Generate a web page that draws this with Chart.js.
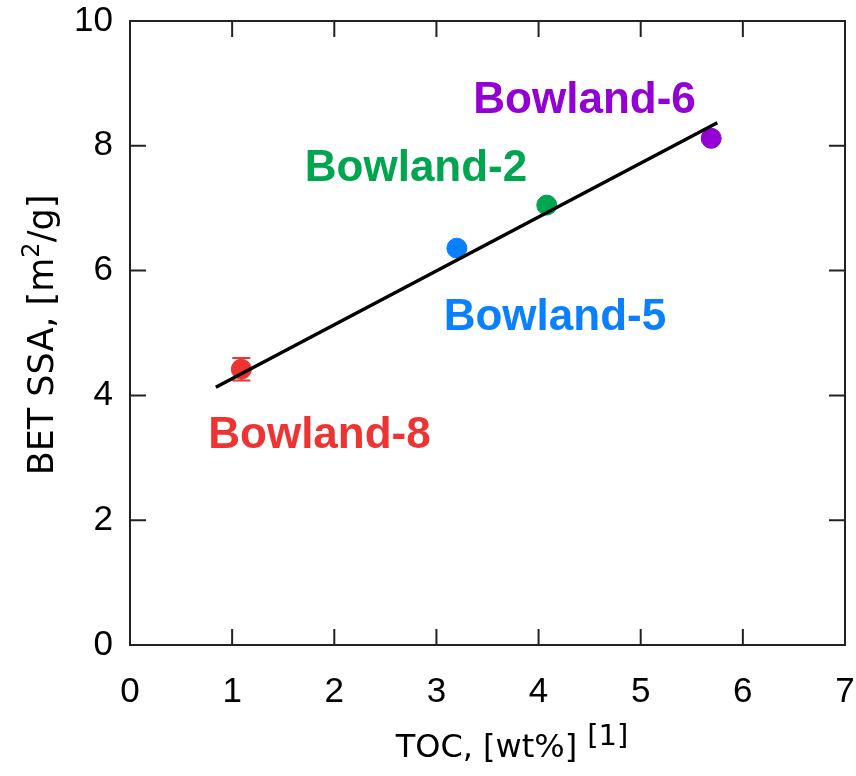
<!DOCTYPE html>
<html>
<head>
<meta charset="utf-8">
<script src="https://cdn.jsdelivr.net/npm/chart.js@4.4.1/dist/chart.umd.min.js"></script>
<style>
  html, body { margin: 0; padding: 0; background: #fff; }
  #wrap { width: 856px; height: 776px; }
</style>
</head>
<body>
<div id="wrap"><canvas id="c" width="856" height="776"></canvas></div>
<script>
// ---- data ----
const samples = ["Bowland-8", "Bowland-5", "Bowland-2", "Bowland-6"];
const tocValues = [1.09, 3.20, 4.08, 5.69];
const ssaValues = [4.42, 6.36, 7.05, 8.12];
const ssaErrors = [0.18, 0.0, 0.0, 0.0];
const sampleColors = ["#EE3333", "#0A80FF", "#00A550", "#9400D3"];
const labelX = [1.855, 4.16, 2.80, 4.45];
const labelY = [3.16, 5.05, 7.44, 8.53];
const fitX = [0.84, 5.75];
const fitY = [4.13, 8.37];
const xTicks = [0, 1, 2, 3, 4, 5, 6, 7];
const yTicks = [0, 2, 4, 6, 8, 10];

const datasets = [{
  type: 'line',
  data: fitX.map((x, i) => ({x: x, y: fitY[i]})),
  borderColor: '#000',
  borderWidth: 3.5,
  pointRadius: 0,
  fill: false,
  order: 0
}];
samples.forEach((s, i) => {
  datasets.push({
    type: 'scatter',
    label: s,
    data: [{x: tocValues[i], y: ssaValues[i]}],
    backgroundColor: sampleColors[i],
    borderColor: sampleColors[i],
    pointRadius: 10,
    pointHoverRadius: 10,
    order: 1
  });
});

function noPad(s) {
  s.paddingLeft = 0; s.paddingRight = 0; s.paddingTop = 0; s.paddingBottom = 0;
}

const decorations = {
  id: 'decorations',
  beforeDatasetsDraw(chart) {
    const ctx = chart.ctx, xs = chart.scales.x, ys = chart.scales.y;
    ctx.save();
    samples.forEach((s, i) => {
      if (!ssaErrors[i]) return;
      const px = xs.getPixelForValue(tocValues[i]);
      const top = ys.getPixelForValue(ssaValues[i] + ssaErrors[i]);
      const bot = ys.getPixelForValue(ssaValues[i] - ssaErrors[i]);
      ctx.strokeStyle = sampleColors[i];
      ctx.lineWidth = 2;
      ctx.beginPath();
      ctx.moveTo(px, top); ctx.lineTo(px, bot);
      ctx.moveTo(px - 9, top); ctx.lineTo(px + 9, top);
      ctx.moveTo(px - 9, bot); ctx.lineTo(px + 9, bot);
      ctx.stroke();
    });
    ctx.restore();
  },
  afterDraw(chart) {
    const ctx = chart.ctx, xs = chart.scales.x, ys = chart.scales.y;
    const a = chart.chartArea;
    ctx.save();
    // frame
    ctx.strokeStyle = '#222';
    ctx.lineWidth = 2;
    ctx.strokeRect(a.left, a.top, a.right - a.left, a.bottom - a.top);
    // inward ticks on all sides
    const tl = 16;
    ctx.beginPath();
    xTicks.forEach(v => {
      const px = xs.getPixelForValue(v);
      ctx.moveTo(px, a.bottom); ctx.lineTo(px, a.bottom - tl);
      ctx.moveTo(px, a.top); ctx.lineTo(px, a.top + tl);
    });
    yTicks.forEach(v => {
      const py = ys.getPixelForValue(v);
      ctx.moveTo(a.left, py); ctx.lineTo(a.left + tl, py);
      ctx.moveTo(a.right, py); ctx.lineTo(a.right - tl, py);
    });
    ctx.stroke();
    // sample labels
    ctx.font = 'bold 44px "Liberation Sans", Arial, sans-serif';
    ctx.textAlign = 'center';
    ctx.textBaseline = 'alphabetic';
    samples.forEach((s, i) => {
      ctx.fillStyle = sampleColors[i];
      ctx.fillText(s, xs.getPixelForValue(labelX[i]), ys.getPixelForValue(labelY[i]));
    });
    // x title
    ctx.fillStyle = '#000';
    ctx.font = '32px "DejaVu Sans", sans-serif';
    ctx.textAlign = 'left';
    const main = 'TOC, [wt%]';
    const w1 = ctx.measureText(main).width;
    ctx.font = '29px "DejaVu Sans", sans-serif';
    const sup = '[1]';
    const w2 = ctx.measureText(sup).width;
    const total = w1 + 10 + w2;
    const cx = 512;
    let sx = cx - total / 2;
    ctx.font = '32px "DejaVu Sans", sans-serif';
    ctx.fillText(main, sx, 757);
    ctx.font = '29px "DejaVu Sans", sans-serif';
    ctx.fillText(sup, sx + w1 + 10, 745);
    // y title
    ctx.save();
    ctx.translate(53, 335);
    ctx.rotate(-Math.PI / 2);
    const big = '35px "DejaVu Sans", sans-serif';
    const small = '24px "DejaVu Sans", sans-serif';
    ctx.font = big;
    const p1 = 'BET SSA, [m', p2 = '2', p3 = '/g]';
    const q1 = ctx.measureText(p1).width;
    ctx.font = small;
    const q2 = ctx.measureText(p2).width;
    ctx.font = big;
    const q3 = ctx.measureText(p3).width;
    let yx = -(q1 + q2 + q3) / 2;
    ctx.textAlign = 'left';
    ctx.fillText(p1, yx, 0);
    ctx.font = small;
    ctx.fillText(p2, yx + q1, -14);
    ctx.font = big;
    ctx.fillText(p3, yx + q1 + q2, 0);
    ctx.restore();
    ctx.restore();
  }
};

new Chart(document.getElementById('c'), {
  type: 'scatter',
  data: { datasets: datasets },
  options: {
    responsive: false,
    animation: false,
    layout: { padding: { top: 21, right: 11, left: 0, bottom: 0 } },
    plugins: { legend: { display: false }, tooltip: { enabled: false } },
    scales: {
      x: {
        type: 'linear', min: 0, max: 7,
        afterBuildTicks(s) { s.ticks = xTicks.map(v => ({value: v})); },
        afterFit(s) { s.height = 131; noPad(s); },
        grid: { display: false, drawTicks: false },
        border: { display: false },
        ticks: { color: '#000', padding: 26, font: { family: '"Liberation Sans", Arial, sans-serif', size: 35 } }
      },
      y: {
        type: 'linear', min: 0, max: 10,
        afterBuildTicks(s) { s.ticks = yTicks.map(v => ({value: v})); },
        afterFit(s) { s.width = 130; noPad(s); },
        grid: { display: false, drawTicks: false },
        border: { display: false },
        ticks: { color: '#000', padding: 17, font: { family: '"Liberation Sans", Arial, sans-serif', size: 35 } }
      }
    }
  },
  plugins: [decorations]
});
</script>
</body>
</html>
